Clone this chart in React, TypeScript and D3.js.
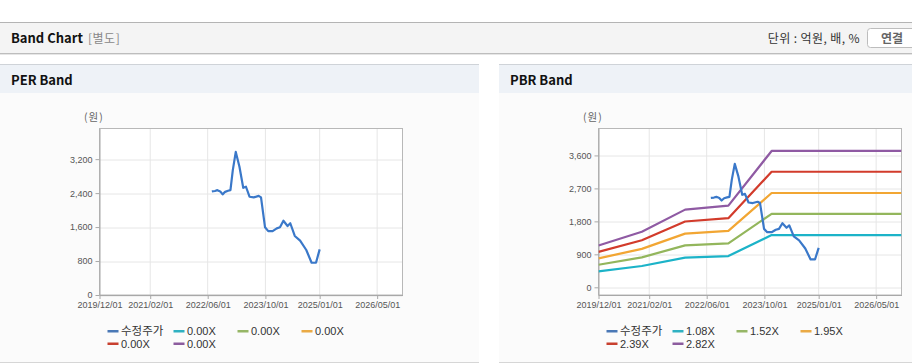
import React, { useRef, useEffect } from 'react';
import * as d3 from 'd3';

// 수정주가 (adjusted price)
const priceDates = [
  '2022-07-06', '2022-08-01', '2022-08-22', '2022-09-15', '2022-10-05', '2022-10-26',
  '2022-11-20', '2022-12-10', '2022-12-30', '2023-01-24', '2023-02-24', '2023-03-28',
  '2023-04-20', '2023-05-20', '2023-06-25', '2023-08-05', '2023-08-25', '2023-09-28',
  '2023-10-25', '2023-12-01', '2024-01-05', '2024-02-01', '2024-03-01', '2024-04-05',
  '2024-04-28', '2024-06-05', '2024-07-20', '2024-09-10', '2024-10-25', '2024-12-01',
  '2025-01-01',
];
const priceValues = [
  2440, 2450, 2470, 2440, 2370, 2430,
  2455, 2470, 2940, 3370, 3020, 2525,
  2550, 2315, 2300, 2335, 2300, 1595,
  1505, 1505, 1570, 1595, 1750, 1625,
  1690, 1390, 1280, 1060, 760, 760,
  1075,
];

// PBR band lines
const bandDates = [
  '2019-12-01', '2020-12-01', '2021-12-01', '2022-12-01',
  '2023-12-01', '2024-12-01', '2025-12-01', '2026-12-01',
];
const pbr108 = [437, 581, 812, 853, 1426, 1426, 1426, 1426];
const pbr152 = [616, 818, 1143, 1201, 2006, 2006, 2006, 2006];
const pbr195 = [790, 1049, 1466, 1541, 2574, 2574, 2574, 2574];
const pbr239 = [968, 1286, 1797, 1888, 3155, 3155, 3155, 3155];
const pbr282 = [1142, 1517, 2121, 2228, 3722, 3722, 3722, 3722];

const perLegend = ['수정주가', '0.00X', '0.00X', '0.00X', '0.00X', '0.00X'];
const pbrLegend = ['수정주가', '1.08X', '1.52X', '1.95X', '2.39X', '2.82X'];

const xTickDates = ['2019-12-01', '2021-02-01', '2022-06-01', '2023-10-01', '2025-01-01', '2026-05-01'];
const perYTicks = [0, 800, 1600, 2400, 3200];
const pbrYTicks = [0, 900, 1800, 2700, 3600];

const colors = ['#3a78c9', '#1cb3c8', '#93b65c', '#f2a633', '#d23b2b', '#8f5aa3'];
const legendColors = ['#4a78b6', '#2fb1c2', '#96b666', '#eaaa45', '#c8402f', '#8c5c9e'];

const parse = d3.timeParse('%Y-%m-%d');
const fmtTick = d3.timeFormat('%Y/%m/%d');
const LATIN = '"Liberation Sans", Arial, sans-serif';
const KOR = '"Noto Sans CJK KR", "Noto Sans", sans-serif';

type Series = { dates: string[]; values: number[]; color: string; width: number };

function drawPanel(
  svg: d3.Selection<SVGSVGElement, unknown, null, undefined>,
  px: number,
  pw: number,
  title: string,
  yDomain: [number, number],
  yTicks: number[],
  series: Series[],
  legend: string[]
) {
  const g = svg.append('g').attr('transform', `translate(${px},0)`);

  // panel header + body
  g.append('rect').attr('x', 0).attr('y', 64).attr('width', pw).attr('height', 298).attr('fill', '#fbfbfb');
  g.append('rect').attr('x', 0).attr('y', 64).attr('width', pw).attr('height', 29).attr('fill', '#eef2f7');
  g.append('line').attr('x1', 0).attr('x2', pw).attr('y1', 64.5).attr('y2', 64.5).attr('stroke', '#cfd3d8');
  g.append('line').attr('x1', 0).attr('x2', pw).attr('y1', 362.5).attr('y2', 362.5).attr('stroke', '#d6d6d6');
  g.append('text').attr('x', 11).attr('y', 85).attr('font-family', KOR).attr('font-weight', 700)
    .attr('font-size', 13).attr('fill', '#111').text(title);

  const left = 99.5, top = 128.5, w = 303, h = 166.5;
  const x = d3.scaleTime().domain([parse('2019-12-01')!, parse('2026-12-01')!]).range([0, w]);
  const y = d3.scaleLinear().domain(yDomain).range([h, 0]);

  g.append('text').attr('x', 84).attr('y', 121).attr('font-family', KOR).attr('font-size', 10.5)
    .attr('letter-spacing', 1).attr('fill', '#666').text('(원)');

  const plot = g.append('g').attr('transform', `translate(${left},${top})`);
  plot.append('rect').attr('width', w).attr('height', h).attr('fill', '#fff');

  // grid
  plot.selectAll('.vg').data(xTickDates.slice(1)).enter().append('line')
    .attr('x1', (d) => x(parse(d)!)).attr('x2', (d) => x(parse(d)!))
    .attr('y1', 0).attr('y2', h).attr('stroke', '#e6e6e6');
  plot.selectAll('.hg').data(yTicks).enter().append('line')
    .attr('x1', 0).attr('x2', w).attr('y1', (d) => Math.round(y(d)) + 0.5).attr('y2', (d) => Math.round(y(d)) + 0.5)
    .attr('stroke', '#e6e6e6');

  plot.append('rect').attr('width', w).attr('height', h).attr('fill', 'none').attr('stroke', '#b8b8b8');

  // axes
  const xAxis = d3.axisBottom(x)
    .tickValues(xTickDates.map((d) => parse(d)!))
    .tickFormat((d) => fmtTick(d as Date))
    .tickSizeInner(4).tickSizeOuter(0).tickPadding(3);
  const xa = plot.append('g').attr('transform', `translate(0,${h})`).call(xAxis);
  const yAxis = d3.axisLeft(y).tickValues(yTicks).tickFormat(d3.format(',') as any)
    .tickSizeInner(4).tickSizeOuter(0).tickPadding(3);
  const ya = plot.append('g').call(yAxis);
  [xa, ya].forEach((a) => {
    a.select('.domain').attr('stroke', '#a8a8a8');
    a.selectAll('.tick line').attr('stroke', '#a8a8a8');
    a.selectAll('.tick text').attr('fill', '#555').attr('font-family', LATIN).attr('font-size', 9);
  });

  // lines
  const clipId = `clip${px}`;
  plot.append('clipPath').attr('id', clipId).append('rect').attr('width', w).attr('height', h);
  const lineGen = d3.line<[Date, number]>().x((d) => x(d[0])).y((d) => y(d[1]));
  const lines = plot.append('g').attr('clip-path', `url(#${clipId})`);
  series.forEach((s) => {
    const pts: [Date, number][] = s.dates.map((d, i) => [parse(d)!, s.values[i]]);
    lines.append('path').attr('d', lineGen(pts)!).attr('fill', 'none')
      .attr('stroke', s.color).attr('stroke-width', s.width).attr('stroke-linejoin', 'round');
  });
  // price line drawn on top
  lines.select('path').raise();

  // legend
  const colX = [0, 66, 130, 194];
  legend.forEach((label, i) => {
    const lx = 107.5 + colX[i % 4];
    const ly = i < 4 ? 331 : 343.5;
    g.append('rect').attr('x', lx).attr('y', ly - 1).attr('width', 11).attr('height', 2.5)
      .attr('fill', legendColors[i]);
    g.append('text').attr('x', lx + 13.5).attr('y', ly + 4)
      .attr('font-family', i === 0 ? KOR : LATIN).attr('font-size', i === 0 ? 11.5 : 11)
      .attr('fill', '#333').text(label);
  });
}

const App: React.FC = () => {
  const ref = useRef<SVGSVGElement | null>(null);

  useEffect(() => {
    const svg = d3.select(ref.current!);
    svg.selectAll('*').remove();

    svg.append('rect').attr('width', 912).attr('height', 364).attr('fill', '#fff');

    // top header bar
    svg.append('rect').attr('x', 0).attr('y', 22).attr('width', 912).attr('height', 31).attr('fill', '#f4f4f4');
    svg.append('line').attr('x1', 0).attr('x2', 912).attr('y1', 22.5).attr('y2', 22.5).attr('stroke', '#b4b4b4');
    svg.append('line').attr('x1', 0).attr('x2', 912).attr('y1', 53.5).attr('y2', 53.5).attr('stroke', '#bdbdbd');
    svg.append('line').attr('x1', 0).attr('x2', 912).attr('y1', 54.5).attr('y2', 54.5).attr('stroke', '#e6e6e6');
    svg.append('text').attr('x', 11).attr('y', 43).attr('font-family', KOR).attr('font-weight', 700)
      .attr('font-size', 13).attr('fill', '#111').text('Band Chart');
    svg.append('text').attr('x', 88).attr('y', 43).attr('font-family', KOR).attr('letter-spacing', 0.5)
      .attr('font-size', 12).attr('fill', '#888').text('[별도]');
    svg.append('text').attr('x', 860).attr('y', 42.5).attr('text-anchor', 'end').attr('font-family', KOR)
      .attr('letter-spacing', 0.4).attr('font-size', 12).attr('fill', '#333').text('단위 : 억원, 배, %');
    svg.append('rect').attr('x', 867.5).attr('y', 28.5).attr('width', 60).attr('height', 19).attr('rx', 3)
      .attr('fill', '#fff').attr('stroke', '#bdbdbd');
    svg.append('text').attr('x', 881).attr('y', 42.5).attr('font-family', KOR).attr('font-weight', 700)
      .attr('font-size', 12).attr('fill', '#666').text('연결');

    const priceSeries: Series = { dates: priceDates, values: priceValues, color: colors[0], width: 2.2 };
    const pbrSeries: Series[] = [
      priceSeries,
      { dates: bandDates, values: pbr108, color: colors[1], width: 2.2 },
      { dates: bandDates, values: pbr152, color: colors[2], width: 2.2 },
      { dates: bandDates, values: pbr195, color: colors[3], width: 2.2 },
      { dates: bandDates, values: pbr239, color: colors[4], width: 2.2 },
      { dates: bandDates, values: pbr282, color: colors[5], width: 2.2 },
    ];

    drawPanel(svg as any, 0, 479, 'PER Band', [0, 3922], perYTicks, [priceSeries], perLegend);
    drawPanel(svg as any, 499, 413, 'PBR Band', [-210, 4335], pbrYTicks, pbrSeries, pbrLegend);
  }, []);

  return (
    <svg
      ref={ref}
      width={912}
      height={364}
      style={{ position: 'absolute', left: 0, top: 0, display: 'block' }}
    />
  );
};

export default App;
